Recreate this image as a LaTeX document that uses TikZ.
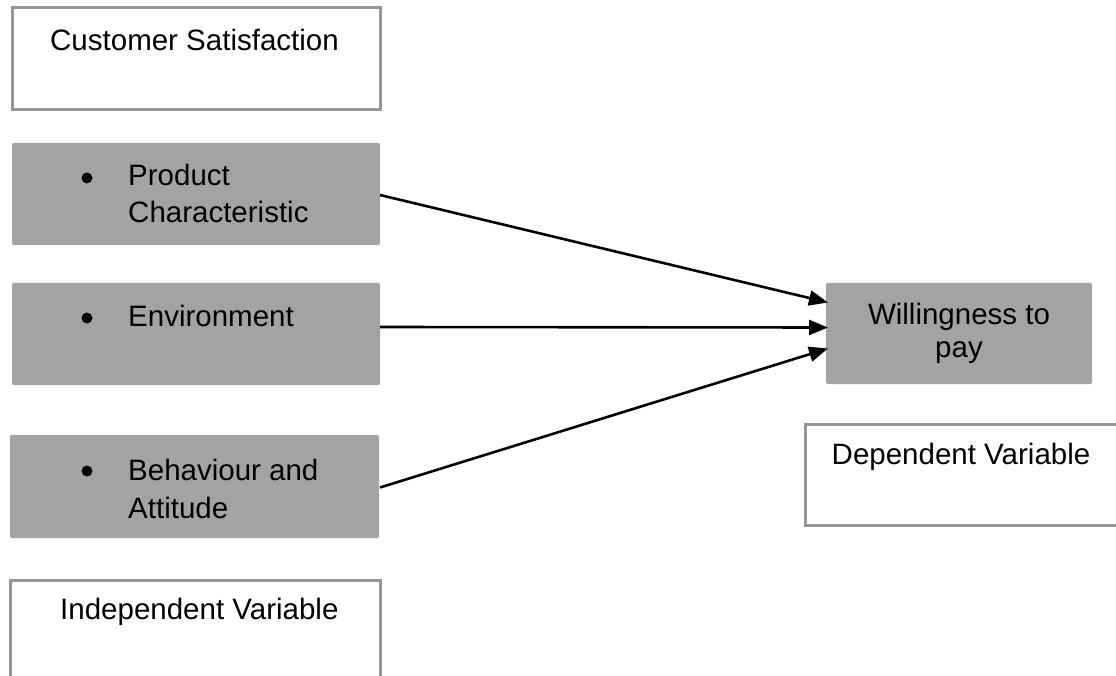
\documentclass[tikz,border=0pt]{standalone}
\usepackage{fontspec}
\setmainfont{Liberation Sans}
\usetikzlibrary{arrows.meta,calc}
\definecolor{boxgray}{RGB}{163,163,163}
\definecolor{edgegray}{RGB}{150,150,150}
\tikzset{
  wbox/.style={draw=edgegray, line width=3pt, fill=white, anchor=north west, inner sep=0pt, outer sep=0pt},
  gbox/.style={fill=boxgray, rounded corners=2pt, anchor=north west, inner sep=0pt, outer sep=0pt},
  lbl/.style={anchor=base west, inner sep=0pt, font=\fontsize{29.5}{36}\selectfont},
  clbl/.style={anchor=base, inner sep=0pt, font=\fontsize{29.5}{36}\selectfont},
  dot/.style={circle, fill=black, inner sep=0pt, minimum size=11pt},
  conn/.style={line width=2.6pt, -{Triangle[length=19pt,width=15pt]}}
}
\begin{document}
\begin{tikzpicture}[x=1pt,y=-1pt]
\clip (0,0) rectangle (1116,676);
\fill[white] (0,0) rectangle (1116,676);
% boxes
\node[wbox, minimum width=368pt, minimum height=102pt] (cs) at (12,8) {};
\node[gbox, minimum width=368pt, minimum height=102pt] (pc) at (12,143) {};
\node[gbox, minimum width=368pt, minimum height=102pt] (env) at (12,283) {};
\node[gbox, minimum width=369pt, minimum height=103pt] (ba) at (10,435) {};
\node[wbox, minimum width=370pt, minimum height=120pt] (iv) at (10,580) {};
\node[gbox, minimum width=266pt, minimum height=101pt] (wtp) at (826,283) {};
\node[wbox, minimum width=320pt, minimum height=101pt] (dv) at (805,424) {};
% texts
\node[lbl] (cst) at (50,51) {Customer Satisfaction};
\node[dot] (b1) at (87,178) {};
\node[lbl] (pct1) at (128,186) {Product};
\node[lbl] (pct2) at (128,223) {Characteristic};
\node[dot] (b2) at (87,318) {};
\node[lbl] (envt) at (128,326) {Environment};
\node[dot] (b3) at (87,471) {};
\node[lbl] (bat1) at (128,480) {Behaviour and};
\node[lbl] (bat2) at (128,518) {Attitude};
\node[lbl] (ivt) at (60,619) {Independent Variable};
\node[clbl] (wt1) at (959,324) {Willingness to};
\node[clbl] (wt2) at (959,357) {pay};
\node[clbl] (dvt) at (961,464) {Dependent Variable};
% connectors
\draw[conn] ($(pc.east)+(0,1)$) -- ($(wtp.west)+(2,-31)$);
\draw[conn] ($(env.east)+(0,-7)$) -- ($(wtp.west)+(2,-6)$);
\draw[conn] ($(ba.east)+(1,1)$) -- ($(wtp.west)+(2,15)$);
\end{tikzpicture}
\end{document}
